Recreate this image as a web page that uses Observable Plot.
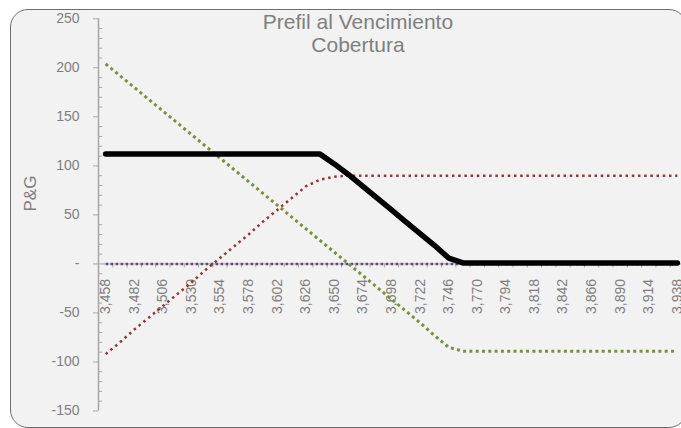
<!DOCTYPE html>
<html><head><meta charset="utf-8">
<script src="https://cdn.jsdelivr.net/npm/d3@7"></script>
<script src="https://cdn.jsdelivr.net/npm/@observablehq/plot@0.6"></script>
<style>
body{margin:0;background:#fff;overflow:hidden;}
#wrap{position:relative;width:681px;height:428px;overflow:hidden;font-family:"Liberation Sans",Arial,sans-serif;}
#bg{position:absolute;left:10px;top:9px;width:677px;height:419px;box-sizing:border-box;border:1px solid #6e6e6e;border-radius:18px;background:#f2f2f2;}
#title{position:absolute;left:208px;width:300px;top:10px;text-align:center;color:#7f7f7f;font-size:21px;line-height:23px;}
#chart{position:absolute;left:0;top:0;}
</style></head>
<body><div id="wrap"><div id="bg"></div><div id="chart"></div><div id="title">Prefil al Vencimiento<br>Cobertura</div></div>
<script>
// Underlying price categories
const categories = [3458, 3470, 3482, 3494, 3506, 3518, 3530, 3542, 3554, 3566, 3578, 3590, 3602, 3614, 3626, 3638, 3650, 3662, 3674, 3686, 3698, 3710, 3722, 3734, 3746, 3758, 3770, 3782, 3794, 3806, 3818, 3830, 3842, 3854, 3866, 3878, 3890, 3902, 3914, 3926, 3938];
// P&G series
const totalPG = [112, 112, 112, 112, 112, 112, 112, 112, 112, 112, 112, 112, 112, 112, 112, 112, 102, 91, 79, 67, 55, 43, 31, 19, 6, 1, 1, 1, 1, 1, 1, 1, 1, 1, 1, 1, 1, 1, 1, 1, 1];
const redPG = [-92, -80, -67, -55, -43, -31, -19, -6, 6, 18, 30, 43, 55, 67, 79, 86, 89, 90, 90, 90, 90, 90, 90, 90, 90, 90, 90, 90, 90, 90, 90, 90, 90, 90, 90, 90, 90, 90, 90, 90, 90];
const greenPG = [204, 192, 180, 168, 156, 144, 132, 120, 108, 96, 84, 72, 60, 48, 36, 24, 12, 0, -12, -24, -36, -48, -60, -73, -85, -89, -89, -89, -89, -89, -89, -89, -89, -89, -89, -89, -89, -89, -89, -89, -89];
const purplePG = [0, 0, 0, 0, 0, 0, 0, 0, 0, 0, 0, 0, 0, 0, 0, 0, 0, 0, 0, 0, 0, 0, 0, 0, 0, 0, 0, 0, 0, 0, 0, 0, 0, 0, 0, 0, 0, 0, 0, 0, 0];
// Axis ticks
const yTicks = [-150, -100, -50, 0, 50, 100, 150, 200, 250];
const xLabels = categories.filter((d, i) => i % 2 === 0);

const rows = categories.map((c, i) => ({c, total: totalPG[i], red: redPG[i], green: greenPG[i], purple: purplePG[i]}));
const step = categories[1] - categories[0];
const x0 = categories[0] - step / 2;
const x1 = categories[categories.length - 1] + step / 2;
const bounds = categories.map(c => c - step / 2);
const minor = d3.range(-150, 251, 10).filter(d => d % 50 !== 0);
const gray = "#a6a6a6";
const txt = "#7f7f7f";
const fmt = d3.format(",");

const chart = Plot.plot({
  width: 681, height: 428,
  marginLeft: 98, marginRight: 0, marginTop: 18, marginBottom: 18,
  style: {background: "transparent", fontFamily: "'Liberation Sans', Arial, sans-serif"},
  x: {type: "linear", domain: [x0, x1], range: [98, 684], axis: null},
  y: {domain: [-150, 250], range: [410.5, 18.3], axis: null},
  marks: [
    Plot.ruleX([x0], {x: d => d, y1: -150, y2: 250, stroke: gray, strokeWidth: 1.5}),
    Plot.ruleY(minor, {y: d => d, x1: x0, x2: x0, insetRight: -4, stroke: gray}),
    Plot.ruleY(yTicks, {y: d => d, x1: x0, x2: x0, insetLeft: -5, stroke: gray}),
    Plot.text(yTicks, {x: x0, y: d => d, text: d => d === 0 ? "-" : String(d), textAnchor: "end", dx: -19, fill: txt, fontSize: 14}),
    Plot.ruleY([0], {y: d => d, x1: x0, x2: x1, stroke: gray}),
    Plot.ruleX(bounds, {x: d => d, y1: 0, y2: 0, insetBottom: -4, stroke: gray}),
    Plot.text(xLabels, {x: d => d, y: 0, dy: 15, rotate: -90, textAnchor: "end", text: d => fmt(d), fill: txt, fontSize: 14}),
    Plot.text(["P&G"], {frameAnchor: "left", dx: -68, dy: -3, rotate: -90, fill: txt, fontSize: 17}),
    Plot.line(rows, {x: "c", y: "purple", stroke: "#604a7b", strokeWidth: 2.5, strokeDasharray: "2.5 2.5", strokeLinecap: "butt"}),
    Plot.line(rows, {x: "c", y: "red", stroke: "#943634", strokeWidth: 2.5, strokeDasharray: "2.5 3.7", strokeLinecap: "butt"}),
    Plot.line(rows, {x: "c", y: "green", stroke: "#76933c", strokeWidth: 3, strokeDasharray: "3 3.3", strokeLinecap: "butt"}),
    Plot.line(rows, {x: "c", y: "total", stroke: "#000", strokeWidth: 5.5, strokeLinecap: "round", strokeLinejoin: "round"})
  ]
});
document.getElementById("chart").appendChild(chart);
</script>
</body></html>
